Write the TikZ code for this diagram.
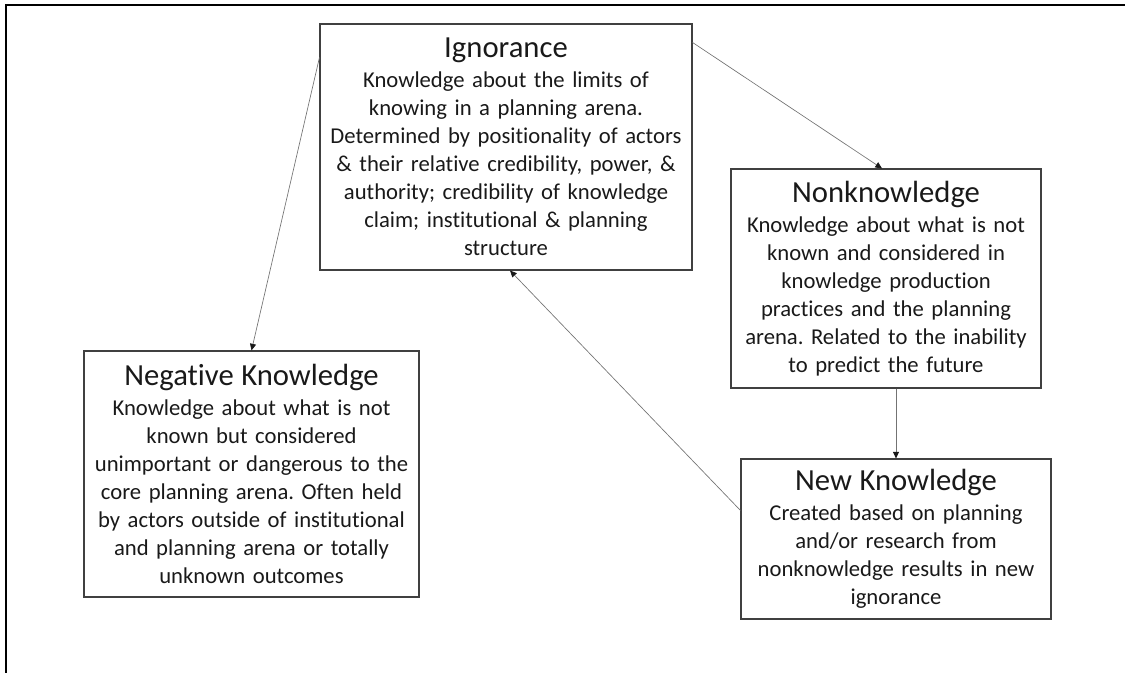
\documentclass[tikz,border=0pt]{standalone}
\usepackage{fontspec}
\setmainfont{Carlito}[Ligatures=NoCommon]
\usetikzlibrary{positioning}
\usetikzlibrary{arrows.meta}
\definecolor{boxgray}{rgb}{0.25, 0.25, 0.25}
\definecolor{linkgray}{rgb}{0.45, 0.45, 0.45}
\definecolor{inkblack}{rgb}{0.1, 0.1, 0.1}
\newcommand{\boxtitle}[1]{{\fontsize{23}{21}\selectfont #1}\\[1.5pt]}
\frenchspacing

\begin{document}
\begin{tikzpicture}[x=0.75pt,y=0.75pt,yscale=-1,xscale=1,
  kbox/.style={draw=boxgray, line width=0.8pt, inner sep=0pt, align=center, text=inkblack, font=\fontsize{17}{21}\selectfont},
  link/.style={draw=linkgray, line width=0.5pt, -{Triangle[length=5pt,width=4.5pt,color=inkblack]}}]
\useasboundingbox (0,0) rectangle (1125,673);

%Shape: Frame
\draw [line width=1.5pt] (1125,5) -- (6,5) -- (6,673);

% Text Node
\node (ignorance) at (506,147) [kbox, text width=279pt, minimum height=184.5pt]
  {\boxtitle{Ignorance}Knowledge about the limits of\\ knowing in a planning arena.\\ Determined by positionality of actors\\ \& their relative credibility, power, \&\\ authority; credibility of knowledge\\ claim; institutional \& planning\\ structure};
% Text Node
\node (nonknow) at (886,278.5) [kbox, text width=232.5pt, minimum height=164.25pt]
  {\boxtitle{Nonknowledge}Knowledge about what is not\\ known and considered in\\ knowledge production\\ practices and the planning\\ arena. Related to the inability\\ to predict the future};
% Text Node
\node (negknow) at (251.5,474) [kbox, text width=251.25pt, minimum height=184.5pt]
  {\boxtitle{Negative Knowledge}Knowledge about what is not\\ known but considered\\ unimportant or dangerous to the\\ core planning arena. Often held\\ by actors outside of institutional\\ and planning arena or totally\\ unknown outcomes};
% Text Node
\node (newknow) at (896,539) [kbox, text width=232.5pt, minimum height=120pt]
  {\boxtitle{New Knowledge}Created based on planning\\ and/or research from\\ nonknowledge results in new\\ ignorance};

%Straight Lines
\draw [link] ([yshift=25.5pt]ignorance.north west) -- (negknow.north);
\draw [link] ([yshift=14.25pt]ignorance.north east) -- ([xshift=-3pt]nonknow.north);
\draw [link] (nonknow.south -| newknow.north) -- (newknow.north);
\draw [link] ([yshift=39pt]newknow.north west) -- ([xshift=3pt]ignorance.south);

\end{tikzpicture}
\end{document}
